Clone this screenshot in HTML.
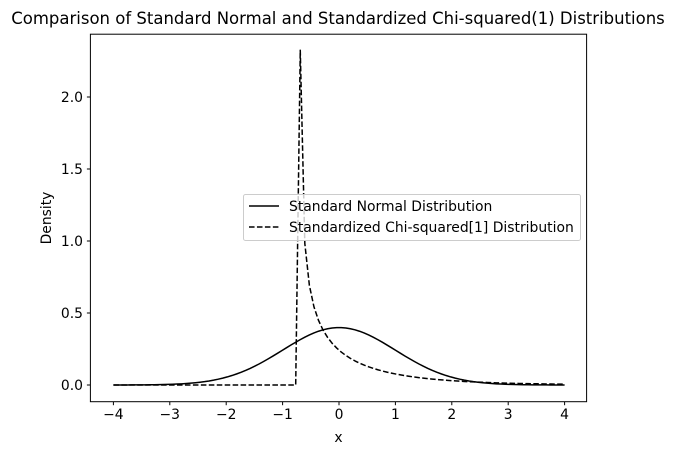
<!DOCTYPE html><html><head><style>body{margin:0;background:#fff}svg text{font-family:"DejaVu Sans","Liberation Sans",sans-serif;fill:#000}</style></head><body>
<svg id="s" width="677" height="455" xmlns="http://www.w3.org/2000/svg">
<rect width="677" height="455" fill="#fff"/>
<text x="338" y="24" font-size="16.5" text-anchor="middle">Comparison of Standard Normal and Standardized Chi-squared(1) Distributions</text>
<g id="plot" fill="none" stroke="#000" stroke-width="1.5" stroke-linejoin="round"></g>
<rect x="90.4" y="34.2" width="496.2" height="367.5" fill="none" stroke="#000" stroke-width="1"/>
<g id="ticks" font-size="13.9"></g>
<text x="338.5" y="442" font-size="13.9" text-anchor="middle">x</text>
<text transform="translate(51,218) rotate(-90)" font-size="13.9" text-anchor="middle">Density</text>
<rect x="243.5" y="194.5" width="337" height="46" rx="2" fill="#fff" fill-opacity="0.8" stroke="#ccc" stroke-width="1"/>
<line x1="249" y1="206" x2="279" y2="206" stroke="#000" stroke-width="1.5"/>
<line x1="249" y1="227" x2="279" y2="227" stroke="#000" stroke-width="1.5" stroke-dasharray="5.55 2.4"/>
<text x="289" y="211" font-size="13.9">Standard Normal Distribution</text>
<text x="289" y="232" font-size="13.9">Standardized Chi-squared[1] Distribution</text>
</svg>
<script>
var X=function(x){return 339+x*56.4},Y=function(y){return 385-y*144};
var n=[],c=[];
for(var i=0;i<100;i++){var x=-4+8*i/99;
n.push(X(x).toFixed(2)+","+Y(Math.exp(-x*x/2)/Math.sqrt(2*Math.PI)).toFixed(2));
var u=1+Math.SQRT2*x,v=u>0?Math.exp(-u/2)/Math.sqrt(2*Math.PI*u):0;
c.push(X(x).toFixed(2)+","+Y(v).toFixed(2));}
var g=document.getElementById("plot");
g.innerHTML='<polyline points="'+n.join(" ")+'"/><polyline stroke-dasharray="5.55 2.4" points="'+c.join(" ")+'"/>';
var t="";
for(var k=-4;k<=4;k++){var px=X(k);t+='<line x1="'+px+'" y1="401.7" x2="'+px+'" y2="405.2" stroke="#000"/><text x="'+px+'" y="419" text-anchor="middle">'+(k<0?"\u2212"+(-k):k)+'</text>';}
for(var j=0;j<=4;j++){var y=j*0.5,py=Y(y);t+='<line x1="86.9" y1="'+py+'" x2="90.4" y2="'+py+'" stroke="#000"/><text x="83" y="'+(py+5)+'" text-anchor="end">'+y.toFixed(1)+'</text>';}
document.getElementById("ticks").innerHTML=t;
</script>
</body></html>
